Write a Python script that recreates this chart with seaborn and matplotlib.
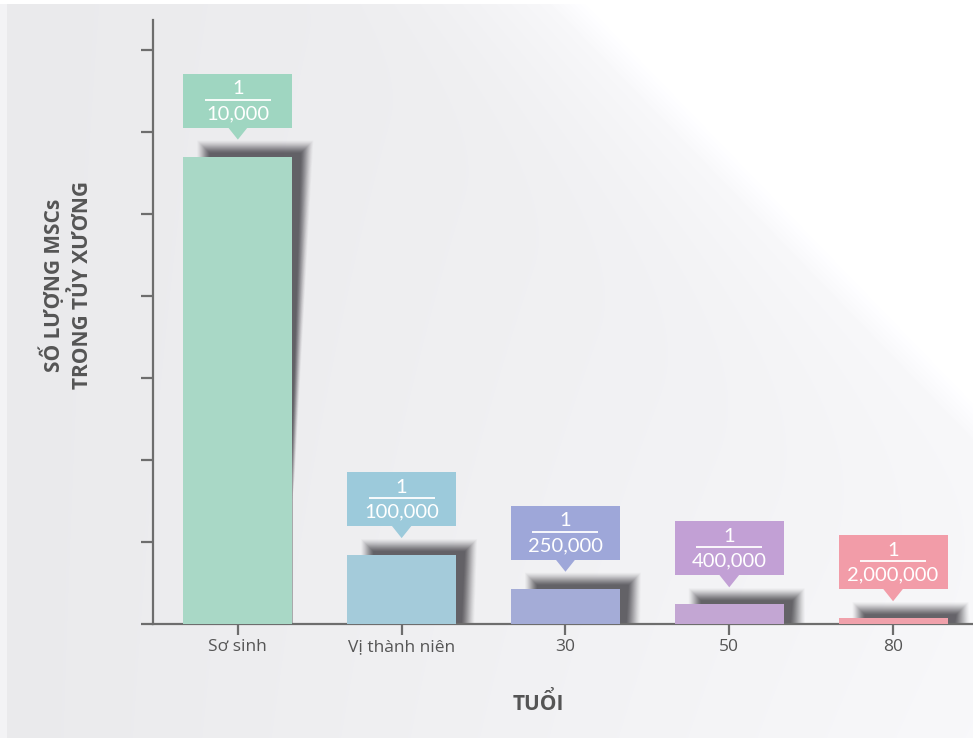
import numpy as np
import pandas as pd
import matplotlib
matplotlib.use("Agg")
import matplotlib.pyplot as plt
from matplotlib.patches import Rectangle, Polygon
import seaborn as sns

# ---------------- data ----------------
categories = ["Sơ sinh", "Vị thành niên", "30", "50", "80"]
values = [5.70, 0.84, 0.43, 0.24, 0.07]          # relative MSC count (tick units)
numerators = ["1", "1", "1", "1", "1"]
denominators = ["10,000", "100,000", "250,000", "400,000", "2,000,000"]
bar_colors = ["#a9d8c6", "#a4cbda", "#a4acd7", "#c3a6d3", "#f0a1ab"]
box_colors = ["#9fd6c1", "#9ccadb", "#9ea7d9", "#c2a0d5", "#f29ca8"]
y_ticks = [0, 1, 2, 3, 4, 5, 6, 7]
x_title = "TUỔI"
y_title = "SỐ LƯỢNG MSCs\nTRONG TỦY XƯƠNG"

W, H = 973, 738
sns.set_theme(style="white")
plt.rcParams["font.family"] = ["Open Sans", "DejaVu Sans"]

fig = plt.figure(figsize=(W / 100, H / 100), dpi=100)
fig.patch.set_facecolor("#ebebed")

# ---------------- background gradient ----------------
bg_ax = fig.add_axes([0, 0, 1, 1], zorder=-10)
yy, xx = np.mgrid[0:H, 0:W].astype(float)
dx, dy = 420.0, 433.0
n = np.hypot(dx, dy)
d = ((xx - 547) * dy - yy * dx) / n      # >0 : upper-right side
base = 0.918 + 0.035 * np.clip(xx / W, 0, 1) + 0.02 * np.clip(yy / H, 0, 1) * np.clip(xx / W, 0, 1)
near = np.clip(1 + d / 200.0, 0, 1)
val = base + (0.972 - base) * near ** 2.5
val = np.where(d > 0, 0.975 + 0.025 * np.clip(d / 25.0, 0, 1), val)
val[:4, :] = 1.0
val[:, :7] = np.maximum(val[:, :7], 0.955)
img = np.dstack([val, val, np.clip(val + 0.008, 0, 1)])
bg_ax.imshow(img, extent=[0, W, H, 0], aspect="auto")
bg_ax.set_axis_off()

# ---------------- main axes ----------------
ax = fig.add_axes([153 / W, 114 / H, (W - 153) / W, (624 - 20) / H])
ax.patch.set_alpha(0)

df = pd.DataFrame({"cat": categories, "val": values})
sns.barplot(data=df, x="cat", y="val", hue="cat", palette=bar_colors,
            width=0.665, legend=False, ax=ax, saturation=1)
bars = list(ax.patches)
for b in bars:
    b.set_zorder(3)
    b.set_edgecolor("none")

ax.set_xlim(-0.518, 4.488)
ax.set_ylim(0, 7.366)

px_x = 1 / 164.0
px_y = 1 / 82.0

# ---------------- soft shadows ----------------
def shadow_pts(x0, x1, h, e):
    top = h + (8 + e) * px_y
    right_top = x1 + (13 + e) * px_x
    taper_end = h - 3.9
    pts = [(x0 + (22 - e) * px_x, top), (right_top, top)]
    if taper_end > 0:
        pts += [(x1 + e * 0.3 * px_x, taper_end), (x1, taper_end - 0.3), (x1, 0)]
    else:
        frac = top / (top - taper_end)
        pts += [(x1 + (right_top - x1) * (1 - frac) + e * 0.3 * px_x, 0)]
    pts.append((x0 + (22 - e) * px_x, 0))
    return pts

layers = [(e, 0.035 + 0.012 * (8 - e)) for e in range(8, -5, -1)]
for b, h in zip(bars, values):
    x0 = b.get_x()
    x1 = x0 + b.get_width()
    for e, a in layers:
        ax.add_patch(Polygon(shadow_pts(x0, x1, h, e), closed=True, facecolor="#3c3a40",
                             edgecolor="none", alpha=min(a, 0.16), zorder=2))

# ---------------- callout boxes ----------------
for b, h, num, den, bc in zip(bars, values, numerators, denominators, box_colors):
    x0 = b.get_x()
    w = b.get_width()
    cx = x0 + w / 2
    bottom = h + 29 * px_y
    bh = 54 * px_y
    ax.add_patch(Rectangle((x0, bottom), w, bh, facecolor=bc, edgecolor="none", zorder=4))
    ax.add_patch(Polygon([(cx - 10 * px_x, bottom + 0.5 * px_y), (cx + 10 * px_x, bottom + 0.5 * px_y),
                          (cx, bottom - 12 * px_y)], closed=True,
                         facecolor=bc, edgecolor="none", zorder=4))
    btop = bottom + bh
    ax.text(cx, btop - 15 * px_y, num, ha="center", va="center", color="white",
            fontsize=14.5, family=["Lato", "DejaVu Sans"], fontweight="normal", zorder=5)
    ax.plot([cx - 33 * px_x, cx + 33 * px_x], [btop - 26 * px_y] * 2, color="white",
            lw=1.3, zorder=5, solid_capstyle="butt")
    ax.text(cx, btop - 40 * px_y, den, ha="center", va="center", color="white",
            fontsize=14.5, family=["Lato", "DejaVu Sans"], fontweight="normal", zorder=5)

# ---------------- axes styling ----------------
for s in ["top", "right"]:
    ax.spines[s].set_visible(False)
for s in ["left", "bottom"]:
    ax.spines[s].set_color("#6d6d6d")
    ax.spines[s].set_linewidth(1.6)
ax.set_yticks(y_ticks)
ax.set_yticklabels([])
ax.tick_params(axis="y", direction="out", length=9, width=1.6, color="#6d6d6d", left=True)
ax.tick_params(axis="x", direction="out", length=8, width=1.6, color="#6d6d6d", bottom=True,
               labelsize=12.5, labelcolor="#555555", pad=3)
ax.set_xlabel("")
ax.set_ylabel("")
ax.grid(False)

fig.text(538 / W, 1 - 704 / H, x_title, ha="center", va="center", fontsize=15,
         fontweight="bold", color="#555555")
fig.text(66 / W, 1 - 285 / H, y_title, ha="center", va="center", rotation=90,
         fontsize=15, fontweight="bold", color="#555555", linespacing=1.35,
         multialignment="center")

fig.savefig("out.png", dpi=100)
